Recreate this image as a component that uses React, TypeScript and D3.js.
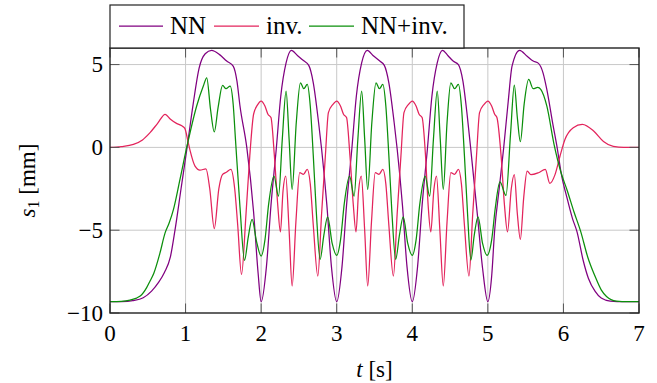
import React from 'react';
import * as d3 from 'd3';

type Pt = [number, number];

const xTicks = [0, 1, 2, 3, 4, 5, 6, 7];
const yTicks = [-10, -5, 0, 5];
const seriesNames = ['NN', 'inv.', 'NN+inv.'];
const seriesColors = ['#800080', '#e3245c', '#0b8f0b'];

const nnData: Pt[] = [
  [0, -9.32], [0.15, -9.31], [0.3, -9.25], [0.44, -9.08], [0.55, -8.68], [0.64, -8.17], [0.72, -7.55], [0.8, -6.6],
  [0.86, -5.0], [0.94, -2.5], [1.02, 0.0], [1.1, 2.6], [1.18, 4.8], [1.26, 5.65], [1.345, 5.86], [1.45, 5.6],
  [1.544, 5.21], [1.63, 4.91], [1.68, 4.0], [1.72, 2.5], [1.81, 0.0], [1.9, -3.9], [1.96, -7.6], [2.0, -9.32],
  [2.07, -7.2], [2.13, -3.5], [2.2, -0.1], [2.26, 3.1], [2.33, 5.1], [2.4, 5.86], [2.48, 5.55], [2.56, 5.24],
  [2.63, 4.95], [2.69, 3.9], [2.76, 1.5], [2.8, -0.1], [2.87, -3.5], [2.93, -7.2], [3.0, -9.32],
  [3.07, -7.2], [3.13, -3.5], [3.2, -0.1], [3.26, 3.1], [3.33, 5.1], [3.405, 5.86], [3.48, 5.55], [3.57, 5.21],
  [3.63, 4.95], [3.69, 3.9], [3.76, 1.5], [3.8, -0.1], [3.87, -3.5], [3.93, -7.2], [4.0, -9.32],
  [4.07, -7.2], [4.13, -3.5], [4.2, -0.1], [4.26, 3.1], [4.33, 5.1], [4.4, 5.86], [4.47, 5.55], [4.54, 5.21],
  [4.61, 5.0], [4.67, 4.0], [4.73, 1.8], [4.785, -0.6], [4.86, -4.0], [4.93, -7.3], [5.0, -9.32],
  [5.05, -7.8], [5.09, -5.0], [5.15, -2.5], [5.21, 0.0], [5.27, 2.8], [5.32, 4.9], [5.42, 5.86], [5.52, 5.5],
  [5.6, 5.21], [5.67, 5.07], [5.73, 4.5], [5.78, 3.5], [5.86, 1.4], [5.92, -0.1], [5.97, -1.55], [6.05, -3.1],
  [6.12, -4.3], [6.18, -5.1], [6.26, -6.8], [6.33, -7.9], [6.42, -8.7], [6.5, -9.1], [6.62, -9.28], [6.8, -9.32],
  [7.0, -9.32],
];

const invData: Pt[] = [
  [0, 0], [0.15, 0.05], [0.31, 0.18], [0.43, 0.45], [0.53, 0.89], [0.63, 1.45], [0.73, 2.0], [0.8, 1.7],
  [0.88, 1.45], [0.95, 1.3], [0.99, 1.15], [1.03, 0.4], [1.06, -0.2], [1.125, -1.13], [1.19, -1.37], [1.27, -1.3],
  [1.32, -2.5], [1.38, -4.9], [1.44, -2.5], [1.49, -1.63], [1.54, -1.5], [1.6, -1.33], [1.65, -2.5], [1.69, -4.7],
  [1.74, -7.67], [1.8, -4.0], [1.85, -0.5], [1.9, 2.0], [1.95, 2.55], [2.0, 2.8],
  [2.05, 2.5], [2.09, 2.0], [2.13, 1.8], [2.175, -0.5], [2.22, -3.5], [2.255, -5.1], [2.29, -2.6], [2.325, -1.73],
  [2.37, -5.0], [2.41, -8.37], [2.46, -4.5], [2.51, -1.53], [2.56, -1.63], [2.61, -1.33], [2.65, -2.2], [2.69, -4.7],
  [2.75, -7.77], [2.8, -4.0], [2.85, -0.5], [2.89, 2.1], [2.95, 2.6], [3.0, 2.8],
  [3.05, 2.5], [3.09, 2.0], [3.13, 1.8], [3.175, -0.5], [3.22, -3.5], [3.255, -5.1], [3.29, -2.6], [3.325, -1.73],
  [3.37, -5.0], [3.41, -8.37], [3.46, -4.5], [3.51, -1.53], [3.56, -1.63], [3.61, -1.33], [3.65, -2.2], [3.69, -4.7],
  [3.75, -7.77], [3.8, -4.0], [3.85, -0.5], [3.89, 2.1], [3.95, 2.6], [4.0, 2.8],
  [4.05, 2.5], [4.09, 2.0], [4.13, 1.8], [4.175, -0.5], [4.21, -3.5], [4.245, -5.1], [4.285, -2.6], [4.32, -1.73],
  [4.365, -5.0], [4.41, -8.37], [4.46, -4.5], [4.51, -1.53], [4.56, -1.63], [4.61, -1.33], [4.65, -2.2], [4.69, -4.7],
  [4.75, -7.77], [4.8, -4.0], [4.85, -0.5], [4.89, 2.1], [4.95, 2.6], [5.0, 2.8],
  [5.05, 2.5], [5.09, 2.0], [5.12, 1.8], [5.175, -0.5], [5.22, -3.5], [5.26, -5.1], [5.31, -2.5], [5.35, -1.65],
  [5.39, -4.0], [5.43, -5.55], [5.475, -3.0], [5.52, -1.43], [5.57, -1.65], [5.67, -1.53], [5.76, -1.33], [5.82, -2.17],
  [5.89, -1.63], [5.955, -0.52], [6.02, 0.48], [6.13, 1.19], [6.25, 1.39], [6.4, 0.99], [6.53, 0.36], [6.66, 0.06],
  [6.8, 0.0], [7.0, 0.0],
];

const mixData: Pt[] = [
  [0, -9.32], [0.15, -9.3], [0.265, -9.22], [0.4, -8.98], [0.485, -8.47], [0.53, -8.07], [0.58, -7.6], [0.66, -6.4],
  [0.73, -5.15], [0.78, -4.6], [0.84, -3.74], [0.926, -1.93], [1.02, 0.1], [1.147, 2.5], [1.235, 3.7], [1.28, 4.2],
  [1.33, 2.3], [1.38, 0.93], [1.43, 2.4], [1.49, 3.74], [1.535, 3.54], [1.59, 3.7], [1.63, 2.6], [1.66, 0.5],
  [1.72, -3.6], [1.78, -6.82], [1.83, -5.4], [1.88, -4.35], [1.94, -5.7], [2.0, -6.56],
  [2.05, -5.6], [2.1, -3.4], [2.17, -1.73], [2.23, -2.94], [2.28, 0.5], [2.33, 3.4], [2.37, 0.5], [2.41, -2.54],
  [2.465, 1.5], [2.52, 3.9], [2.565, 3.54], [2.61, 3.8], [2.65, 2.5], [2.69, -0.5], [2.73, -3.9], [2.78, -6.76],
  [2.83, -5.3], [2.88, -4.19], [2.94, -5.8], [3.0, -6.52],
  [3.05, -5.6], [3.1, -3.4], [3.17, -1.73], [3.23, -2.94], [3.28, 0.5], [3.33, 3.4], [3.37, 0.5], [3.41, -2.54],
  [3.465, 1.5], [3.52, 3.9], [3.565, 3.54], [3.61, 3.8], [3.65, 2.5], [3.69, -0.5], [3.73, -3.9], [3.78, -6.76],
  [3.83, -5.3], [3.88, -4.19], [3.94, -5.8], [4.0, -6.52],
  [4.05, -5.6], [4.1, -3.4], [4.17, -1.73], [4.23, -2.94], [4.28, 0.5], [4.33, 3.4], [4.37, 0.5], [4.41, -2.54],
  [4.46, 1.5], [4.51, 3.9], [4.56, 3.54], [4.61, 3.8], [4.65, 2.5], [4.69, -0.5], [4.73, -3.9], [4.775, -6.8],
  [4.82, -5.3], [4.87, -4.19], [4.93, -5.8], [4.99, -6.52],
  [5.05, -5.6], [5.1, -3.6], [5.16, -2.09], [5.24, -2.9], [5.3, 0.8], [5.35, 3.76], [5.39, 1.8], [5.43, 0.34],
  [5.48, 2.6], [5.54, 4.1], [5.6, 3.54], [5.66, 3.62], [5.7, 3.5], [5.78, 2.5], [5.875, 0.2], [5.97, -1.55],
  [6.05, -2.6], [6.14, -3.9], [6.23, -5.1], [6.32, -6.6], [6.42, -7.8], [6.5, -8.6], [6.57, -9.0], [6.7, -9.28],
  [6.85, -9.32], [7.0, -9.32],
];

const allSeries = [nnData, invData, mixData];

const FONT = '"Liberation Serif", "DejaVu Serif", serif';

export default function App() {
  const W = 657, H = 383;
  const left = 110, right = 639, top = 48, bottom = 313;
  const x = d3.scaleLinear().domain([0, 7]).range([left, right]);
  const y = d3.scaleLinear().domain([-10, 6]).range([bottom, top]);
  const line = d3.line<Pt>().x(d => x(d[0])).y(d => y(d[1])).curve(d3.curveMonotoneX);
  const tickLen = 9.5;
  const fmt = (v: number) => (v < 0 ? '\u2212' + Math.abs(v) : String(v));
  const ts = { fontFamily: FONT };

  const legendItems = [
    { x1: 119, x2: 163, tx: 170 },
    { x1: 214, x2: 259, tx: 266 },
    { x1: 309, x2: 354, tx: 361 },
  ];

  return (
    <svg width={W} height={H} style={{ position: 'absolute', left: 0, top: 0, background: '#fff', fontFamily: FONT }}>
      <rect x={0} y={0} width={W} height={H} fill="#fff" />
      <defs>
        <clipPath id="plotclip">
          <rect x={left} y={top} width={right - left} height={bottom - top} />
        </clipPath>
      </defs>
      <g stroke="#c8c8c8" strokeWidth={1}>
        {xTicks.filter(t => t > 0 && t < 7).map(t => (
          <line key={'gx' + t} x1={x(t)} x2={x(t)} y1={top} y2={bottom} />
        ))}
        {yTicks.filter(t => t > -10).map(t => (
          <line key={'gy' + t} x1={left} x2={right} y1={y(t)} y2={y(t)} />
        ))}
      </g>
      <g clipPath="url(#plotclip)" fill="none">
        {allSeries.map((s, i) => (
          <path key={i} d={line(s) || ''} stroke={seriesColors[i]} strokeWidth={1.25} />
        ))}
      </g>
      <g stroke="#555" strokeWidth={1}>
        {xTicks.map(t => (
          <g key={'tx' + t}>
            <line x1={x(t)} x2={x(t)} y1={bottom} y2={bottom - tickLen} />
            <line x1={x(t)} x2={x(t)} y1={top} y2={top + tickLen} />
          </g>
        ))}
        {yTicks.map(t => (
          <g key={'ty' + t}>
            <line x1={left} x2={left + tickLen} y1={y(t)} y2={y(t)} />
            <line x1={right} x2={right - tickLen} y1={y(t)} y2={y(t)} />
          </g>
        ))}
      </g>
      <rect x={left} y={top} width={right - left} height={bottom - top} fill="none" stroke="#222" strokeWidth={1.4} />
      {xTicks.map(t => (
        <text key={'lx' + t} x={x(t)} y={341} textAnchor="middle" fontSize={23} fill="#000" style={ts}>{fmt(t)}</text>
      ))}
      {yTicks.map(t => (
        <text key={'ly' + t} x={103} y={y(t) + 7.5} textAnchor="end" fontSize={23} fill="#000" style={ts}>{fmt(t)}</text>
      ))}
      <text x={(left + right) / 2} y={377} textAnchor="middle" fontSize={23} style={ts}>
        <tspan fontStyle="italic">t</tspan>
        <tspan> [s]</tspan>
      </text>
      <text transform={`translate(35, ${(top + bottom) / 2}) rotate(-90)`} textAnchor="middle" fontSize={23} style={ts}>
        <tspan fontStyle="italic">s</tspan>
        <tspan fontSize={16} dy={4}>1</tspan>
        <tspan dy={-4}> [mm]</tspan>
      </text>
      <rect x={110} y={5} width={354} height={43} fill="#fff" stroke="#222" strokeWidth={1.2} />
      {legendItems.map((it, i) => (
        <g key={'lg' + i}>
          <line x1={it.x1} x2={it.x2} y1={26} y2={26} stroke={seriesColors[i]} strokeWidth={1.25} />
          <text x={it.tx} y={34} fontSize={25} fill="#000" style={ts}>{seriesNames[i]}</text>
        </g>
      ))}
    </svg>
  );
}
